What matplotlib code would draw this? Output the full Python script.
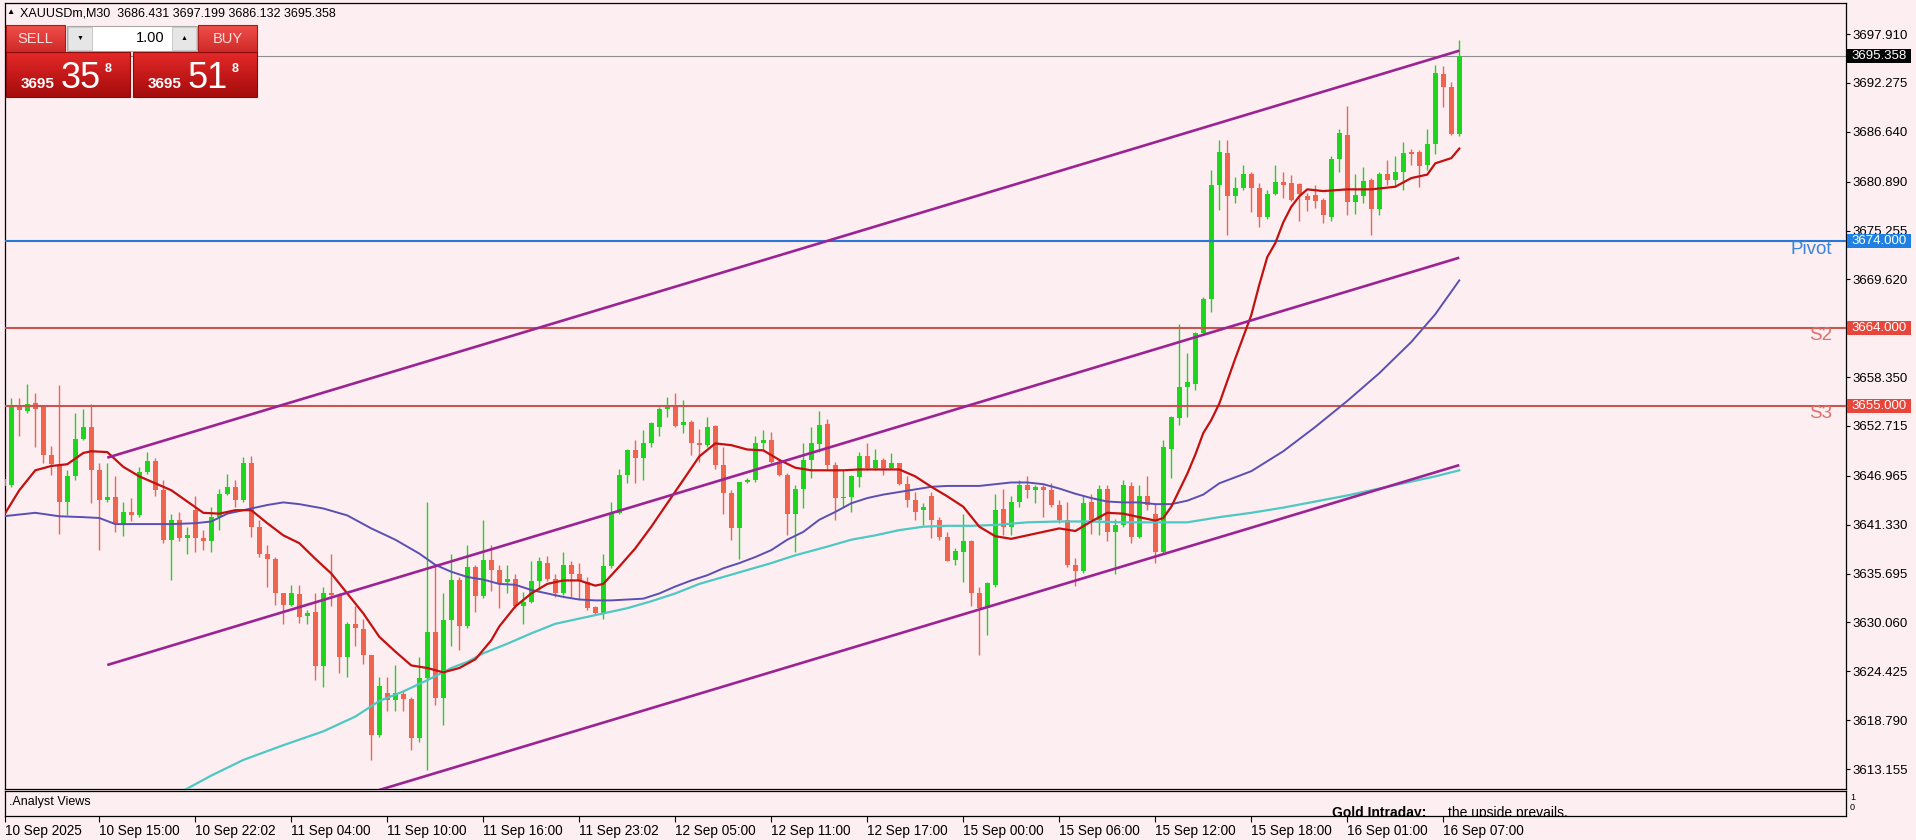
import numpy as np
import matplotlib
matplotlib.use("Agg")
import matplotlib.pyplot as plt
import matplotlib.transforms as mtransforms
from matplotlib.patches import Rectangle
from matplotlib.colors import LinearSegmentedColormap

plt.rcParams['font.family'] = ['Liberation Sans', 'DejaVu Sans']

# ---- XAUUSDm M30 candles (10 Sep 09:00 -> 16 Sep 08:00) ----
opens = [3645.8, 3645.9, 3655.1, 3654.4, 3655.4, 3655.0, 3649.4, 3648.2, 3644.0, 3646.9,
         3651.2, 3652.6, 3647.6, 3644.2, 3644.5, 3641.5, 3642.8, 3642.4, 3647.4, 3648.7,
         3645.3, 3639.6, 3641.9, 3639.8, 3643.0, 3639.8, 3639.5, 3642.2, 3644.9, 3645.7,
         3644.2, 3648.5, 3641.1, 3638.0, 3637.4, 3633.4, 3632.1, 3633.3, 3630.8, 3631.3,
         3625.0, 3633.4, 3633.2, 3626.1, 3629.9, 3629.3, 3626.3, 3617.1, 3621.9, 3621.1,
         3621.8, 3621.2, 3616.7, 3623.6, 3629.0, 3621.3, 3630.3, 3635.0, 3629.6, 3636.5,
         3633.1, 3637.3, 3636.1, 3634.7, 3635.1, 3631.9, 3632.4, 3634.8, 3636.9, 3635.1,
         3633.4, 3636.7, 3635.7, 3634.7, 3631.8, 3631.2, 3636.6, 3642.7, 3647.1, 3649.9,
         3649.0, 3650.7, 3652.6, 3654.7, 3655.0, 3652.8, 3653.2, 3650.7, 3650.5, 3652.7,
         3648.2, 3645.0, 3640.9, 3646.2, 3646.5, 3650.7, 3651.1, 3648.6, 3647.1, 3642.6,
         3645.4, 3648.8, 3650.6, 3652.9, 3648.2, 3644.4, 3644.5, 3646.8, 3649.2, 3647.9,
         3648.8, 3647.9, 3648.4, 3646.0, 3644.2, 3643.0, 3644.6, 3641.9, 3639.9, 3637.3,
         3638.2, 3639.4, 3633.4, 3631.7, 3634.4, 3643.1, 3641.1, 3643.9, 3645.9, 3645.3,
         3645.7, 3645.3, 3643.6, 3641.9, 3636.7, 3636.0, 3643.9, 3641.9, 3645.4, 3640.5,
         3641.3, 3645.8, 3639.9, 3644.6, 3642.6, 3638.2, 3650.1, 3653.6, 3657.2, 3657.6,
         3663.4, 3667.3, 3680.5, 3684.2, 3679.2, 3680.1, 3681.8, 3680.2, 3676.8, 3679.5,
         3680.9, 3680.7, 3680.6, 3679.2, 3679.3, 3678.8, 3676.8, 3683.5, 3686.3, 3678.5,
         3679.2, 3681.1, 3677.7, 3681.8, 3681.1, 3682.0, 3684.3, 3684.3, 3682.8, 3685.2,
         3693.3, 3691.8, 3686.431]
highs = [3647.5, 3655.9, 3655.9, 3657.6, 3656.5, 3655.1, 3650.4, 3657.4, 3647.6, 3654.2,
         3654.7, 3655.3, 3648.4, 3648.4, 3646.9, 3643.9, 3644.4, 3648.0, 3649.7, 3649.0,
         3646.5, 3642.6, 3642.8, 3641.1, 3644.6, 3640.7, 3643.4, 3645.5, 3647.2, 3646.5,
         3649.1, 3649.2, 3641.9, 3639.0, 3637.6, 3633.5, 3634.4, 3634.4, 3631.5, 3633.4,
         3634.2, 3638.0, 3633.4, 3630.1, 3631.9, 3630.5, 3626.3, 3623.8, 3623.8, 3625.1,
         3622.1, 3621.5, 3626.1, 3644.0, 3636.7, 3633.4, 3638.0, 3635.3, 3639.0, 3636.7,
         3641.9, 3639.0, 3636.7, 3636.7, 3635.7, 3633.6, 3637.1, 3637.6, 3637.7, 3635.7,
         3638.2, 3637.1, 3636.9, 3635.3, 3631.9, 3638.0, 3644.0, 3647.8, 3650.1, 3651.1,
         3652.2, 3653.2, 3654.9, 3656.1, 3656.5, 3655.7, 3653.4, 3652.4, 3653.8, 3652.8,
         3650.3, 3645.3, 3646.3, 3646.7, 3651.5, 3652.2, 3652.0, 3648.8, 3647.3, 3645.9,
         3650.7, 3652.6, 3654.4, 3653.5, 3648.6, 3647.6, 3647.1, 3649.7, 3650.7, 3650.1,
         3649.0, 3649.6, 3648.5, 3646.9, 3645.1, 3643.8, 3645.1, 3642.2, 3640.5, 3638.6,
         3642.6, 3639.6, 3634.2, 3634.7, 3644.9, 3645.5, 3644.6, 3646.5, 3646.9, 3645.9,
         3645.9, 3646.1, 3644.2, 3644.0, 3637.5, 3644.7, 3644.9, 3645.9, 3645.9, 3642.0,
         3646.5, 3646.3, 3645.9, 3646.9, 3643.8, 3651.1, 3653.9, 3664.5, 3661.1, 3663.6,
         3667.6, 3682.2, 3685.7, 3685.7, 3681.4, 3682.8, 3682.0, 3680.7, 3679.9, 3682.8,
         3682.0, 3681.6, 3680.7, 3679.6, 3680.5, 3679.0, 3683.8, 3687.0, 3689.6, 3681.8,
         3682.6, 3681.3, 3682.0, 3683.4, 3683.8, 3685.5, 3684.6, 3684.5, 3687.0, 3694.3,
         3694.2, 3692.4, 3697.199]
lows = [3644.5, 3645.7, 3651.5, 3654.2, 3650.3, 3648.4, 3647.1, 3640.3, 3642.4, 3646.5,
        3651.1, 3643.8, 3638.4, 3644.0, 3640.5, 3640.0, 3641.7, 3642.2, 3647.2, 3644.6,
        3639.2, 3634.9, 3639.4, 3638.0, 3638.2, 3638.4, 3638.2, 3640.7, 3644.7, 3643.4,
        3644.0, 3639.9, 3637.6, 3634.2, 3632.1, 3629.9, 3631.9, 3630.0, 3629.9, 3623.4,
        3622.6, 3631.9, 3624.2, 3623.8, 3627.3, 3625.3, 3614.2, 3616.9, 3619.9, 3619.8,
        3619.8, 3615.3, 3616.3, 3613.0, 3620.5, 3618.2, 3627.3, 3626.9, 3629.4, 3631.3,
        3632.9, 3633.7, 3631.7, 3633.4, 3631.7, 3629.9, 3632.3, 3633.8, 3634.8, 3633.0,
        3633.2, 3633.0, 3632.8, 3631.5, 3630.9, 3630.5, 3636.3, 3642.6, 3646.1, 3646.1,
        3646.5, 3650.3, 3651.5, 3653.8, 3652.6, 3651.9, 3649.4, 3648.6, 3650.3, 3647.8,
        3642.6, 3639.6, 3637.4, 3646.1, 3646.3, 3649.8, 3648.4, 3646.9, 3640.1, 3638.2,
        3643.2, 3646.7, 3649.7, 3647.7, 3641.9, 3643.4, 3642.8, 3645.7, 3647.6, 3647.6,
        3647.1, 3647.8, 3645.9, 3643.4, 3641.9, 3641.3, 3639.8, 3639.6, 3637.1, 3636.7,
        3634.7, 3631.9, 3626.3, 3628.6, 3634.2, 3640.1, 3640.1, 3643.4, 3644.4, 3643.8,
        3642.2, 3643.4, 3641.5, 3636.5, 3634.3, 3635.8, 3640.3, 3640.1, 3639.4, 3635.6,
        3641.1, 3639.2, 3639.8, 3643.0, 3636.9, 3638.0, 3646.7, 3652.8, 3653.8, 3656.9,
        3663.2, 3665.9, 3677.6, 3674.7, 3678.4, 3679.9, 3677.4, 3675.7, 3676.6, 3679.3,
        3679.0, 3678.6, 3676.3, 3677.5, 3677.8, 3676.1, 3676.3, 3682.0, 3677.0, 3677.2,
        3678.4, 3674.7, 3677.0, 3680.5, 3680.3, 3679.9, 3682.8, 3680.3, 3682.2, 3684.1,
        3689.5, 3686.3, 3686.132]
closes = [3646.6, 3655.0, 3654.6, 3655.3, 3654.7, 3649.4, 3648.3, 3643.9, 3646.9, 3651.2,
          3652.6, 3647.6, 3644.2, 3644.5, 3641.5, 3642.8, 3642.4, 3647.4, 3648.7, 3645.3,
          3639.6, 3641.9, 3639.8, 3640.1, 3639.8, 3639.5, 3642.2, 3644.9, 3645.7, 3644.2,
          3648.5, 3641.1, 3638.0, 3637.4, 3633.4, 3632.1, 3633.4, 3630.7, 3631.2, 3625.0,
          3633.4, 3633.2, 3626.1, 3629.9, 3629.4, 3626.3, 3617.1, 3622.7, 3621.1, 3621.9,
          3621.2, 3616.7, 3623.6, 3629.0, 3621.3, 3630.3, 3634.9, 3629.6, 3636.5, 3633.1,
          3637.3, 3636.1, 3634.6, 3635.1, 3631.9, 3632.4, 3634.8, 3637.1, 3635.1, 3633.4,
          3636.7, 3635.7, 3634.9, 3631.7, 3631.2, 3636.6, 3642.7, 3647.1, 3649.9, 3649.0,
          3650.7, 3653.0, 3654.7, 3654.9, 3652.7, 3653.2, 3650.7, 3650.5, 3652.6, 3648.2,
          3645.0, 3640.9, 3646.2, 3646.5, 3650.7, 3651.1, 3648.6, 3647.1, 3642.6, 3645.5,
          3648.8, 3650.7, 3652.8, 3648.2, 3644.4, 3644.5, 3646.9, 3649.2, 3647.9, 3648.8,
          3647.9, 3648.4, 3646.0, 3644.2, 3642.8, 3643.4, 3641.9, 3639.9, 3637.2, 3638.3,
          3639.4, 3633.4, 3631.7, 3634.6, 3643.0, 3641.1, 3643.9, 3645.9, 3645.3, 3645.7,
          3645.3, 3643.6, 3641.9, 3636.7, 3636.0, 3643.8, 3641.9, 3645.5, 3640.5, 3641.3,
          3645.9, 3639.9, 3644.6, 3643.6, 3638.2, 3650.3, 3653.8, 3657.2, 3657.8, 3663.4,
          3667.4, 3680.5, 3684.3, 3679.2, 3680.1, 3681.8, 3680.1, 3676.8, 3679.5, 3680.9,
          3680.5, 3678.8, 3679.5, 3678.8, 3678.6, 3677.0, 3683.5, 3686.5, 3678.5, 3679.3,
          3681.0, 3677.7, 3681.8, 3681.1, 3682.0, 3684.2, 3684.1, 3682.7, 3685.2, 3693.4,
          3691.8, 3686.4, 3695.358]

# ---- moving averages at bar indexes ----
fast_idx = [0, 2, 4, 6, 8, 10, 11, 13, 15, 17,
            19, 21, 23, 25, 27, 29, 31, 33, 35, 37,
            39, 41, 43, 45, 47, 49, 51, 53, 55, 57,
            59, 61, 62, 64, 66, 68, 70, 72, 74, 75,
            77, 79, 81, 83, 85, 87, 89, 91, 93, 95,
            97, 99, 101, 103, 105, 107, 109, 111, 112, 114,
            116, 118, 120, 122, 124, 126, 128, 130, 132, 134,
            136, 138, 140, 142, 144, 145, 146, 147, 148, 149,
            150, 151, 152, 154, 156, 157, 158, 159, 160, 161,
            162, 163, 165, 168, 171, 174, 176, 178, 179, 181,
            182]
fast_ma = [3642.3, 3645.3, 3647.6, 3648.1, 3648.3, 3649.6, 3649.8, 3649.7, 3648.0, 3646.9,
           3646.1, 3645.3, 3644.0, 3642.7, 3642.6, 3643.0, 3643.0, 3641.5, 3640.1, 3639.2,
           3637.4, 3635.7, 3633.4, 3631.1, 3628.4, 3626.7, 3625.1, 3624.8, 3624.3, 3624.8,
           3625.8, 3628.0, 3629.6, 3631.9, 3633.4, 3634.5, 3634.9, 3634.9, 3634.3, 3634.5,
           3636.5, 3638.6, 3641.1, 3643.8, 3646.5, 3649.2, 3650.7, 3650.5, 3650.0, 3649.9,
           3648.8, 3647.9, 3647.6, 3647.6, 3647.6, 3647.7, 3647.7, 3647.7, 3647.7, 3646.9,
           3645.7, 3644.6, 3643.4, 3641.1, 3640.0, 3639.7, 3640.1, 3640.5, 3640.9, 3640.6,
           3641.7, 3642.7, 3642.6, 3642.2, 3641.8, 3642.1, 3643.4, 3645.3, 3647.2, 3649.4,
           3651.9, 3653.4, 3655.3, 3660.5, 3665.5, 3669.0, 3672.2, 3673.8, 3676.2, 3678.0,
           3679.2, 3680.0, 3679.8, 3680.0, 3680.0, 3680.3, 3681.3, 3681.7, 3683.0, 3683.6,
           3684.7]

slow_idx = [0, 4, 7, 10, 12, 14, 17, 21, 24, 26,
            28, 30, 33, 35, 37, 40, 43, 46, 49, 52,
            54, 56, 58, 60, 62, 64, 66, 68, 70, 72,
            74, 76, 78, 80, 82, 84, 86, 88, 90, 92,
            94, 96, 98, 100, 102, 104, 106, 108, 110, 112,
            114, 116, 118, 120, 122, 124, 126, 128, 130, 132,
            134, 136, 138, 140, 142, 144, 146, 148, 150, 152,
            156, 160, 164, 168, 172, 176, 179, 182]
slow_ma = [3642.3, 3642.7, 3642.3, 3642.2, 3642.1, 3641.4, 3641.4, 3641.4, 3641.5, 3641.7,
           3642.6, 3643.0, 3643.6, 3643.9, 3643.7, 3643.2, 3642.4, 3640.9, 3639.6, 3638.0,
           3636.7, 3635.9, 3635.3, 3635.0, 3634.5, 3634.4, 3633.8, 3633.4, 3633.0, 3632.7,
           3632.6, 3632.6, 3632.7, 3632.8, 3633.4, 3634.2, 3634.9, 3635.5, 3636.3, 3636.9,
           3637.6, 3638.4, 3639.6, 3640.5, 3641.9, 3642.8, 3643.8, 3644.4, 3644.8, 3645.1,
           3645.4, 3645.7, 3645.8, 3645.8, 3645.8, 3646.0, 3646.2, 3646.2, 3646.0, 3645.5,
           3644.9, 3644.4, 3644.0, 3643.9, 3643.9, 3643.7, 3643.7, 3644.1, 3644.8, 3646.1,
           3647.5, 3649.8, 3652.6, 3655.6, 3658.8, 3662.4, 3665.6, 3669.5]

trend_idx = [20, 23, 26, 30, 35, 40, 44, 47, 50, 53,
             56, 58, 60, 63, 66, 69, 72, 75, 78, 81,
             84, 87, 90, 93, 96, 99, 103, 106, 109, 112,
             115, 118, 121, 124, 128, 132, 136, 140, 144, 148,
             152, 156, 160, 164, 168, 172, 176, 179, 182]
trend_ma = [3609.4, 3610.9, 3612.4, 3614.2, 3615.9, 3617.5, 3619.2, 3621.0, 3622.1, 3623.4,
            3624.8, 3625.5, 3626.5, 3627.6, 3628.8, 3629.9, 3630.5, 3631.1, 3631.7, 3632.5,
            3633.4, 3634.5, 3635.3, 3636.1, 3636.9, 3637.8, 3638.8, 3639.6, 3640.1, 3640.7,
            3641.1, 3641.2, 3641.2, 3641.3, 3641.6, 3641.7, 3641.7, 3641.6, 3641.6, 3641.6,
            3642.2, 3642.7, 3643.3, 3644.0, 3644.7, 3645.5, 3646.3, 3646.9, 3647.6]

# ---- rising channel (bar index, price) ----
channel_idx = [13, 182]
channel_upper = [3649.06, 3695.99]
channel_middle = [3625.15, 3672.12]
channel_lower = [3601.3, 3648.2]

# ---- levels and labels ----
level_prices = [3674.0, 3664.0, 3655.0]
level_names = ['Pivot', 'S2', 'S3']
bid, ask = 3695.358, 3695.518
price_ticks = [3697.910, 3692.275, 3686.640, 3680.890, 3675.255, 3669.620, 3658.350,
               3652.715, 3646.965, 3641.330, 3635.695, 3630.060, 3624.425, 3618.790, 3613.155]
time_bars = [0, 12, 24, 36, 48, 60, 72, 84, 96, 108, 120, 132, 144, 156, 168, 180]
time_labels = ['10 Sep 2025', '10 Sep 15:00', '10 Sep 22:02', '11 Sep 04:00', '11 Sep 10:00',
               '11 Sep 16:00', '11 Sep 23:02', '12 Sep 05:00', '12 Sep 11:00', '12 Sep 17:00',
               '15 Sep 00:00', '15 Sep 06:00', '15 Sep 12:00', '15 Sep 18:00', '16 Sep 01:00',
               '16 Sep 07:00']

W, H = 1916, 840
BG = '#fdeef2'
BULL, BEAR = '#1ed51e', '#f0634d'
PURPLE = '#9b2393'

fig = plt.figure(figsize=(W / 100, H / 100), dpi=100)
fig.patch.set_facecolor(BG)

# main price pane: x 5..1846 px, y 3..789 px
ax = fig.add_axes([5 / W, 51 / H, 1841 / W, 786 / H])
ax.set_facecolor(BG)
xlim = (0.2125, 230.34)
ylim = (3610.85, 3701.49)

o = np.array(opens); hi = np.array(highs); lo = np.array(lows); c = np.array(closes)
x = np.arange(len(o))
cols = np.where(c >= o, BULL, BEAR)
ax.vlines(x, lo, hi, colors=cols, lw=1.0, zorder=3)
ax.bar(x, np.maximum(np.abs(c - o), 0.15), bottom=np.minimum(o, c), width=0.68,
       color=cols, lw=0, zorder=4)

ax.axhline(bid, color='#8e8e8e', lw=0.8, zorder=2)
level_cols = ['#2a78d6', '#c9564e', '#c9564e']
text_cols = ['#3d83d8', '#e06f69', '#e06f69']
for p, col in zip(level_prices, level_cols):
    ax.axhline(p, color=col, lw=1.5, zorder=5)

ax.plot(trend_idx, trend_ma, color='#4ec8c2', lw=1.6, zorder=6)
ax.plot(slow_idx, slow_ma, color='#5a4fb2', lw=1.4, zorder=6)
ax.plot(fast_idx, fast_ma, color='#c3110f', lw=1.6, zorder=6)
for line in (channel_upper, channel_middle, channel_lower):
    ax.plot(channel_idx, line, color=PURPLE, lw=1.9, zorder=7, solid_capstyle='butt')

ax.set_xlim(*xlim)
ax.set_ylim(*ylim)
ax.set_xticks([])
ax.yaxis.tick_right()
ax.set_yticks(price_ticks)
ax.set_yticklabels([f'{t:.3f}' for t in price_ticks])
ax.tick_params(axis='y', direction='out', length=3, width=0.8, pad=2, labelsize=9.5)
for s in ax.spines.values():
    s.set_color('black'); s.set_linewidth(0.9)

trans = mtransforms.blended_transform_factory(ax.transAxes, ax.transData)
for p, name, col in zip(level_prices, level_names, text_cols):
    ax.text((1832 - 5) / 1841, p + 0.1, name, transform=trans, ha='right', va='top',
            fontsize=13.5, color=col, zorder=8)

px_per_unit = 786 / (ylim[1] - ylim[0])
box_h = 14 / px_per_unit


def price_box(price, face):
    ax.add_patch(Rectangle((1 + 1 / 1841, price - box_h / 2), 64 / 1841, box_h, transform=trans,
                           facecolor=face, edgecolor='none', clip_on=False, zorder=10))
    ax.text(1 + 5 / 1841, price, f'{price:.3f}', transform=trans, ha='left', va='center',
            fontsize=9.5, color='white', clip_on=False, zorder=11)


price_box(bid, '#050505')
price_box(level_prices[0], '#1f80e4')
price_box(level_prices[1], '#e8463a')
price_box(level_prices[2], '#e8463a')

# bottom indicator pane with the time axis
ax2 = fig.add_axes([5 / W, 24 / H, 1841 / W, 25 / H])
ax2.set_facecolor(BG)
ax2.set_xlim(*xlim)
ax2.set_ylim(0, 1)
ax2.set_yticks([])
ax2.set_xticks([max(b, xlim[0]) for b in time_bars])
ax2.set_xticklabels(time_labels, ha='left', fontsize=9.8)
ax2.tick_params(axis='x', direction='out', length=4, width=0.8, pad=1.5)
for s in ax2.spines.values():
    s.set_color('black'); s.set_linewidth(0.9)
ax2.text(4 / 1841, 0.56, '.Analyst Views', transform=ax2.transAxes, fontsize=9,
         va='center', ha='left')
ax2.text((1332 - 5) / 1841, 0.1, 'Gold Intraday:', transform=ax2.transAxes, fontsize=10,
         fontweight='bold', va='center', ha='left', clip_on=True)
ax2.text((1448 - 5) / 1841, 0.1, 'the upside prevails.', transform=ax2.transAxes, fontsize=10,
         va='center', ha='left', clip_on=True)
ax2.text(1 + 4 / 1841, 0.72, '1', transform=ax2.transAxes, fontsize=6.5, va='center')
ax2.text(1 + 4 / 1841, 0.32, '0', transform=ax2.transAxes, fontsize=6.5, va='center')

# overlay in pixel coordinates for the header and trade panel
ov = fig.add_axes([0, 0, 1, 1], zorder=20)
ov.patch.set_visible(False)
ov.axis('off')


def grad_box(x0, y0, x1, y1, top, bottom, edge):
    cmap = LinearSegmentedColormap.from_list('g', [top, bottom])
    ov.imshow(np.linspace(0, 1, 32).reshape(-1, 1), extent=(x0, x1, y1, y0), cmap=cmap,
              aspect='auto', interpolation='bilinear', zorder=1)
    ov.add_patch(Rectangle((x0, y0), x1 - x0, y1 - y0, fill=False, edgecolor=edge, lw=0.8, zorder=2))


ov.text(6, 13, '\u25b2', fontsize=6, va='center', ha='left')
ov.text(20, 13, f'XAUUSDm,M30  {opens[-1]:.3f} {highs[-1]:.3f} {lows[-1]:.3f} {closes[-1]:.3f}',
        fontsize=9, va='center', ha='left')

grad_box(6, 25, 65, 52, '#ee4f49', '#cf2a2a', '#b01818')
grad_box(198, 25, 257, 52, '#ee4f49', '#cf2a2a', '#b01818')
ov.add_patch(Rectangle((67, 26), 130, 25, facecolor='white', edgecolor='#a8a8a8', lw=0.8, zorder=2))
ov.add_patch(Rectangle((68, 27), 24, 23, facecolor='#e6e6e6', edgecolor='#c4c4c4', lw=0.6, zorder=3))
ov.add_patch(Rectangle((172, 27), 24, 23, facecolor='#e6e6e6', edgecolor='#c4c4c4', lw=0.6, zorder=3))
ov.text(80, 38.5, '\u25bc', fontsize=5, ha='center', va='center', zorder=4)
ov.text(184, 38, '\u25b2', fontsize=5, ha='center', va='center', zorder=4)
ov.text(165, 38.5, '1.00', fontsize=10.5, ha='right', va='center', zorder=4)
ov.text(35.5, 39, 'SELL', fontsize=10.5, color='#ffdede', ha='center', va='center', zorder=4)
ov.text(227.5, 39, 'BUY', fontsize=10.5, color='#ffdede', ha='center', va='center', zorder=4)

grad_box(6, 52, 130, 97, '#e42828', '#a60c0c', '#8c0a0a')
grad_box(133, 52, 257, 97, '#e42828', '#a60c0c', '#8c0a0a')
for px0, price in ((6, bid), (133, ask)):
    s = f'{price:.3f}'
    ov.text(px0 + 15, 88, s[:4], fontsize=11, fontweight='bold', color='white',
            ha='left', va='baseline', zorder=4)
    ov.text(px0 + 55, 87.5, s[5:7], fontsize=26, color='white', ha='left', va='baseline', zorder=4)
    ov.text(px0 + 99, 72, s[7], fontsize=9, fontweight='bold', color='white',
            ha='left', va='baseline', zorder=4)

ov.set_xlim(0, W)
ov.set_ylim(H, 0)

fig.savefig('out.png', dpi=100, facecolor=BG)
